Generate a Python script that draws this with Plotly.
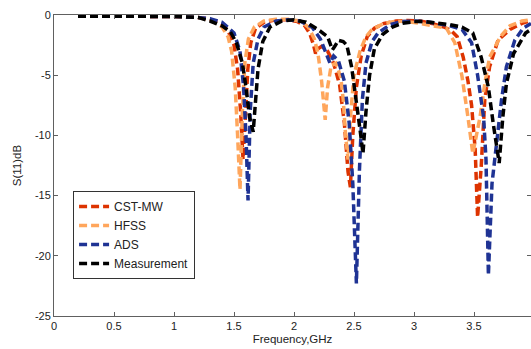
import plotly.graph_objects as go

# CST-MW
cst_f = [0.2, 0.5, 0.8, 1.0, 1.2, 1.3, 1.4, 1.45, 1.5, 1.53, 1.555, 1.575, 1.595, 1.615, 1.64, 1.68, 1.75, 1.85, 1.95, 2.03, 2.09, 2.13, 2.16, 2.18, 2.2, 2.23, 2.28, 2.33, 2.38, 2.42, 2.45, 2.47, 2.49, 2.52, 2.56, 2.61, 2.67, 2.75, 2.85, 2.95, 3.05, 3.15, 3.25, 3.31, 3.36, 3.41, 3.45, 3.48, 3.51, 3.53, 3.56, 3.59, 3.63, 3.7, 3.8, 3.9, 3.975]
cst_s = [-0.1, -0.1, -0.1, -0.12, -0.2, -0.35, -0.8, -1.3, -2.5, -4.5, -8.0, -12.0, -8.5, -4.5, -2.3, -1.1, -0.6, -0.4, -0.4, -0.55, -0.9, -1.5, -2.4, -3.2, -2.8, -2.6, -3.0, -4.0, -5.8, -9.0, -13.0, -14.3, -10.0, -6.0, -3.4, -1.8, -1.1, -0.7, -0.5, -0.45, -0.5, -0.7, -1.0, -1.3, -1.8, -3.5, -5.5, -7.5, -11.2, -16.8, -12.6, -7.0, -4.3, -2.1, -1.2, -0.7, -0.45]

# HFSS
hfss_f = [0.2, 0.5, 0.8, 1.0, 1.2, 1.3, 1.4, 1.45, 1.48, 1.51, 1.53, 1.55, 1.57, 1.59, 1.62, 1.67, 1.75, 1.85, 1.95, 2.05, 2.12, 2.17, 2.2, 2.23, 2.26, 2.28, 2.31, 2.35, 2.39, 2.41, 2.43, 2.45, 2.47, 2.5, 2.55, 2.6, 2.65, 2.75, 2.85, 2.95, 3.05, 3.15, 3.22, 3.27, 3.34, 3.4, 3.45, 3.49, 3.52, 3.55, 3.59, 3.63, 3.72, 3.8, 3.9, 3.975]
hfss_s = [-0.1, -0.1, -0.1, -0.12, -0.2, -0.4, -1.0, -1.8, -3.0, -6.0, -10.0, -14.5, -8.0, -4.0, -2.0, -1.0, -0.5, -0.35, -0.35, -0.5, -1.0, -2.0, -3.2, -5.5, -8.7, -6.0, -4.2, -4.0, -5.2, -7.0, -10.0, -12.0, -8.5, -5.0, -3.0, -1.8, -1.2, -0.7, -0.5, -0.55, -0.7, -0.9, -1.0, -1.1, -2.3, -5.1, -8.5, -11.5, -10.0, -8.5, -5.7, -3.5, -1.8, -0.9, -0.5, -0.4]

# ADS
ads_f = [0.2, 0.5, 0.8, 1.0, 1.2, 1.3, 1.4, 1.5, 1.55, 1.58, 1.6, 1.617, 1.635, 1.66, 1.7, 1.75, 1.85, 1.95, 2.05, 2.15, 2.22, 2.27, 2.3, 2.33, 2.37, 2.42, 2.46, 2.49, 2.52, 2.545, 2.57, 2.6, 2.65, 2.7, 2.8, 2.9, 3.0, 3.1, 3.2, 3.3, 3.4, 3.48, 3.53, 3.58, 3.6, 3.62, 3.65, 3.69, 3.73, 3.77, 3.84, 3.91, 3.975]
ads_s = [-0.1, -0.1, -0.1, -0.12, -0.2, -0.3, -0.6, -1.5, -3.0, -6.0, -10.0, -15.4, -8.0, -4.0, -2.0, -1.0, -0.5, -0.4, -0.5, -1.0, -2.0, -3.2, -4.0, -3.4, -3.8, -5.5, -9.0, -14.0, -22.3, -13.0, -7.0, -4.0, -2.2, -1.5, -0.8, -0.55, -0.5, -0.55, -0.7, -0.9, -1.2, -2.3, -5.0, -8.5, -12.0, -21.6, -14.0, -10.4, -7.0, -4.3, -2.1, -1.1, -0.7]

# Measurement
meas_f = [0.2, 0.5, 0.8, 1.0, 1.2, 1.3, 1.4, 1.47, 1.52, 1.57, 1.6, 1.63, 1.66, 1.68, 1.7, 1.74, 1.8, 1.9, 2.0, 2.1, 2.2, 2.28, 2.32, 2.34, 2.37, 2.41, 2.44, 2.48, 2.52, 2.55, 2.575, 2.6, 2.63, 2.67, 2.74, 2.82, 2.9, 3.0, 3.1, 3.2, 3.3, 3.4, 3.49, 3.56, 3.62, 3.66, 3.71, 3.74, 3.77, 3.83, 3.93, 3.975]
meas_s = [-0.1, -0.1, -0.1, -0.12, -0.2, -0.5, -0.9, -1.4, -2.3, -4.0, -6.0, -8.5, -9.7, -7.0, -4.5, -2.2, -1.0, -0.5, -0.4, -0.6, -1.2, -1.8, -2.9, -2.6, -2.1, -2.2, -2.5, -4.3, -7.0, -9.5, -11.5, -8.0, -5.0, -2.8, -1.6, -1.0, -0.7, -0.55, -0.55, -0.65, -0.8, -1.0, -1.5, -3.5, -6.0, -9.0, -12.3, -8.5, -5.7, -3.2, -1.5, -1.2]

x_ticks = [0, 0.5, 1, 1.5, 2, 2.5, 3, 3.5]
x_labels = ["0", "0.5", "1", "1.5", "2", "2.5", "3", "3.5"]
y_ticks = [0, -5, -10, -15, -20, -25]
y_labels = ["0", "-5", "-10", "-15", "-20", "-25"]

names = ["CST-MW", "HFSS", "ADS", "Measurement"]
colors = ["#DD3300", "#FFA65C", "#1F3394", "#000000"]
series = [(cst_f, cst_s), (hfss_f, hfss_s), (ads_f, ads_s), (meas_f, meas_s)]

fig = go.Figure()
for name, col, (fx, sy) in zip(names, colors, series):
    fig.add_trace(go.Scatter(
        x=fx, y=sy, mode="lines", name=name,
        line=dict(color=col, width=3.5, dash="8px,4px"),
    ))

axis_common = dict(
    showline=True, linecolor="#606060", linewidth=1, mirror="ticks",
    ticks="inside", ticklen=4, tickcolor="#606060", showgrid=False, zeroline=False,
    tickfont=dict(family="Liberation Sans, Arial", size=11, color="#222"),
)

fig.update_layout(
    width=531, height=349,
    margin=dict(l=54, r=0, t=15, b=33),
    paper_bgcolor="white", plot_bgcolor="white",
    font=dict(family="Liberation Sans, Arial", size=11, color="#222"),
    xaxis=dict(range=[0, 3.975], tickvals=x_ticks, ticktext=x_labels,
               title=dict(text="Frequency,GHz", standoff=3, font=dict(size=11.5)),
               **axis_common),
    yaxis=dict(range=[-25, 0], tickvals=y_ticks, ticktext=y_labels,
               title=dict(text="S(11)dB", standoff=10, font=dict(size=11.5)),
               **axis_common),
    legend=dict(x=0.04, y=0.415, xanchor="left", yanchor="top",
                bgcolor="white", bordercolor="#333", borderwidth=1,
                font=dict(size=12), tracegroupgap=0),
    showlegend=True,
)

fig.write_html("out.html", config={"displayModeBar": False},
               post_script="document.body.style.margin='0';document.body.style.overflow='hidden';")
